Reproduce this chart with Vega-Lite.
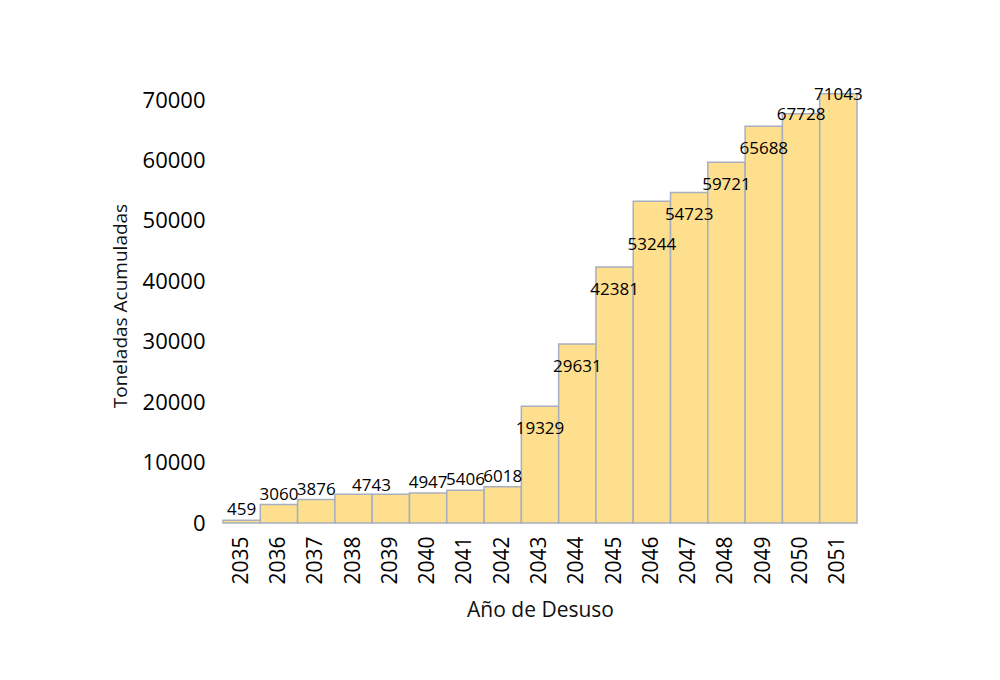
{
  "$schema": "https://vega.github.io/schema/vega-lite/v6.json",
  "width": 634,
  "height": 435,
  "autosize": "none",
  "padding": {"left": 223, "top": 88, "right": 143, "bottom": 157},
  "background": "white",
  "config": {
    "view": {"stroke": null},
    "font": "Open Sans",
    "axis": {"labelColor": "#000000", "titleColor": "#111111", "titleFontWeight": "normal"}
  },
  "data": {
    "values": [
      {"year": "2035", "tons": 459},
      {"year": "2036", "tons": 3060},
      {"year": "2037", "tons": 3876},
      {"year": "2038", "tons": 4743},
      {"year": "2039", "tons": 4743},
      {"year": "2040", "tons": 4947},
      {"year": "2041", "tons": 5406},
      {"year": "2042", "tons": 6018},
      {"year": "2043", "tons": 19329},
      {"year": "2044", "tons": 29631},
      {"year": "2045", "tons": 42381},
      {"year": "2046", "tons": 53244},
      {"year": "2047", "tons": 54723},
      {"year": "2048", "tons": 59721},
      {"year": "2049", "tons": 65688},
      {"year": "2050", "tons": 67728},
      {"year": "2051", "tons": 71043}
    ]
  },
  "encoding": {
    "x": {
      "field": "year",
      "type": "ordinal",
      "title": "Año de Desuso",
      "scale": {"paddingInner": 0, "paddingOuter": 0},
      "axis": {
        "labelAngle": -90,
        "labelFontSize": 21,
        "labelPadding": 13,
        "titleFontSize": 21,
        "titlePadding": 15,
        "domain": false,
        "ticks": false
      }
    },
    "y": {
      "field": "tons",
      "type": "quantitative",
      "title": "Toneladas Acumuladas",
      "scale": {"domain": [0, 72000], "nice": false},
      "axis": {
        "values": [0, 10000, 20000, 30000, 40000, 50000, 60000, 70000],
        "format": "d",
        "labelFontSize": 22,
        "labelPadding": 18,
        "titleFontSize": 19,
        "titlePadding": 12,
        "domain": false,
        "ticks": false,
        "grid": false
      }
    }
  },
  "layer": [
    {
      "mark": {"type": "bar", "fill": "#FEDF8E", "stroke": "#A7AFBE", "strokeWidth": 1.5}
    },
    {
      "transform": [{"filter": "toNumber(datum.year) <= 2042 && datum.year != '2038' && datum.year != '2039'"}],
      "mark": {"type": "text", "fontSize": 17, "color": "#000000", "baseline": "middle", "dy": -10},
      "encoding": {"text": {"field": "tons", "type": "quantitative", "format": "d"}}
    },
    {
      "transform": [{"filter": "datum.year == '2038'"}],
      "mark": {"type": "text", "fontSize": 17, "color": "#000000", "baseline": "middle", "dy": -8, "dx": 18},
      "encoding": {"text": {"field": "tons", "type": "quantitative", "format": "d"}}
    },
    {
      "transform": [{"filter": "toNumber(datum.year) >= 2043 && toNumber(datum.year) <= 2049 && datum.year != '2046'"}],
      "mark": {"type": "text", "fontSize": 17, "color": "#000000", "baseline": "middle", "dy": 23},
      "encoding": {"text": {"field": "tons", "type": "quantitative", "format": "d"}}
    },
    {
      "transform": [{"filter": "datum.year == '2046'"}],
      "mark": {"type": "text", "fontSize": 17, "color": "#000000", "baseline": "middle", "dy": 44},
      "encoding": {"text": {"field": "tons", "type": "quantitative", "format": "d"}}
    },
    {
      "transform": [{"filter": "toNumber(datum.year) >= 2050"}],
      "mark": {"type": "text", "fontSize": 17, "color": "#000000", "baseline": "middle", "dy": 1},
      "encoding": {"text": {"field": "tons", "type": "quantitative", "format": "d"}}
    }
  ]
}
